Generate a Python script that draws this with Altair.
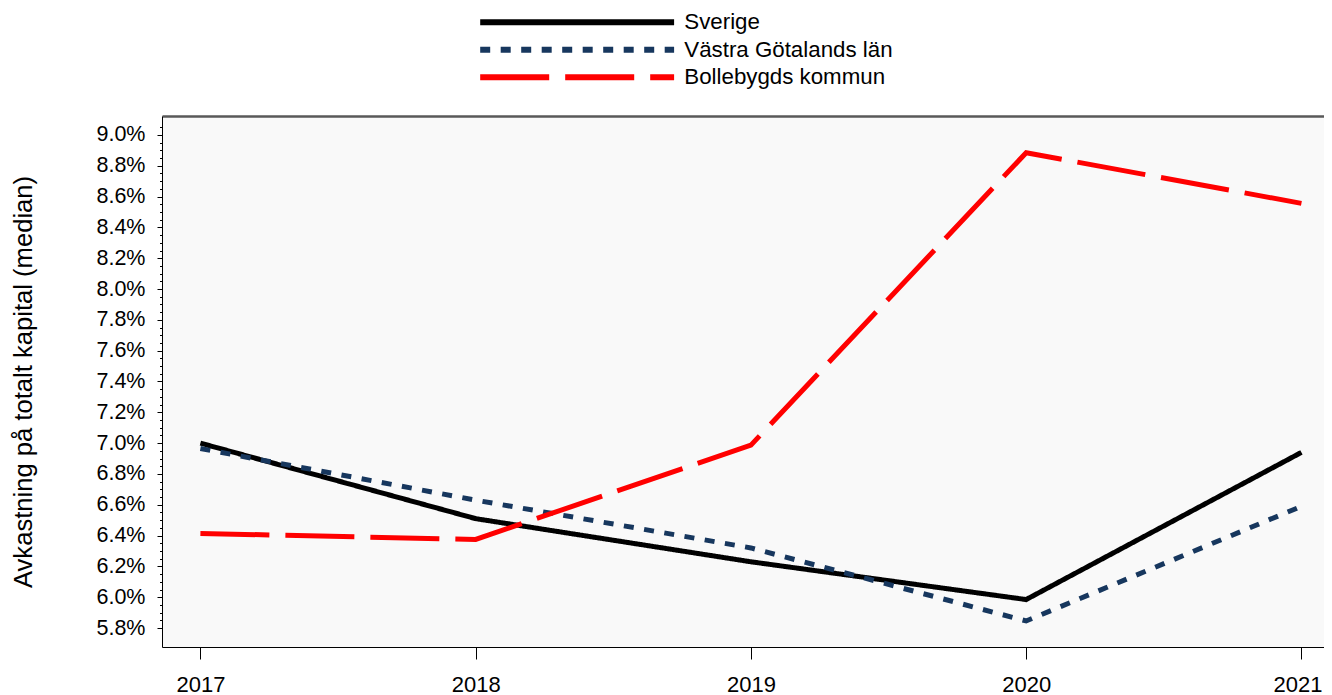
import altair as alt
import pandas as pd

years = [2017, 2018, 2019, 2020, 2021]
series_names = ["Sverige", "Västra Götalands län", "Bollebygds kommun"]
sverige = [7.00, 6.51, 6.23, 5.985, 6.94]
vastra = [6.965, 6.63, 6.32, 5.846, 6.59]
bollebygd = [6.414, 6.375, 6.987, 8.885, 8.556]
colors = ["#000000", "#17375E", "#FF0000"]
dashes = [[1, 0], [10, 10.5], [69, 16]]
minor_ticks = [round(5.8 + 0.05 * i, 2) for i in range(66)]

rows = []
for name, vals in zip(series_names, [sverige, vastra, bollebygd]):
    for y, v in zip(years, vals):
        rows.append({"Year": y, "Serie": name, "Value": v})
df = pd.DataFrame(rows)

FONT = "Liberation Sans"
xscale = alt.Scale(domain=[2016.8605, 2021.082], nice=False, zero=False)
yscale = alt.Scale(domain=[5.677, 9.123], nice=False, zero=False)

lines = alt.Chart(df).mark_line(strokeWidth=5, strokeCap="butt", strokeJoin="miter").encode(
    x=alt.X("Year:Q", scale=xscale, title=None,
            axis=alt.Axis(values=years, format="d", grid=False, tickSize=12, tickColor="black",
                          domainColor="black", domainWidth=1, labelFontSize=22, labelFont=FONT,
                          labelColor="black", labelPadding=15, labelFlush=False,
                          labelOffset={"condition": {"test": "datum.value == 2021", "value": -4}, "value": 0})),
    y=alt.Y("Value:Q", scale=yscale, title="Avkastning på totalt kapital (median)",
            axis=alt.Axis(values=minor_ticks, grid=False,
                          labelExpr="round(datum.value*20) % 4 == 0 ? format(datum.value, '.1f') + '%' : ''",
                          tickSize={"condition": {"test": "round(datum.value*20) % 4 == 0", "value": 5}, "value": 2.5},
                          tickColor="black", domainColor="black", domainWidth=1,
                          labelFontSize=21.5, labelFont=FONT, labelColor="black", labelPadding=12,
                          labelOverlap=False, labelFlush=False,
                          titleFontSize=25.6, titleFont=FONT, titleColor="black", titleFontWeight="normal",
                          titleX=-139, titleAngle=270, titleBaseline="middle")),
    color=alt.Color("Serie:N", scale=alt.Scale(domain=series_names, range=colors),
                    legend=alt.Legend(title=None, orient="none", legendX=404, legendY=-105,
                                      direction="vertical", symbolType="M-20,0H20", symbolSize=94,
                                      symbolStrokeWidth=6, labelFontSize=22.3, labelFont=FONT,
                                      labelColor="black", labelOffset=96, labelLimit=500,
                                      rowPadding=2.5, padding=0)),
    strokeDash=alt.StrokeDash("Serie:N", scale=alt.Scale(domain=series_names, range=dashes), legend=None),
    order=alt.Order("Year:Q"),
)

top = alt.Chart(df).mark_rule(opacity=0).encode(
    x=alt.X("Year:Q", scale=xscale, title=None,
            axis=alt.Axis(orient="top", labels=False, ticks=False, grid=False,
                          domainColor="#595959", domainWidth=2.5)),
)

chart = alt.layer(lines, top).resolve_axis(x="independent").properties(
    width=1162, height=531,
    autosize=alt.AutoSizeParams(type="none"),
    padding={"left": 154, "top": 108, "right": 0, "bottom": 48},
).configure_view(stroke=None, fill="#f9f9f9")

chart.save("out.html", embed_options={"renderer": "svg", "actions": False})
